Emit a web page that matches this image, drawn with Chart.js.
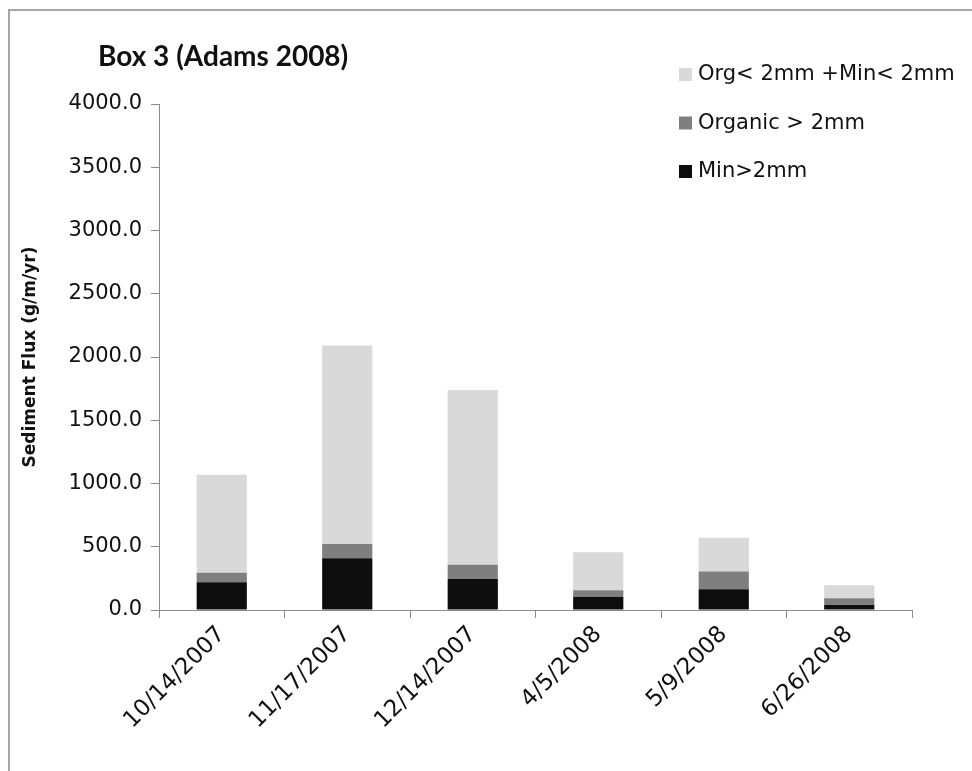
<!DOCTYPE html>
<html lang="en">
<head>
<meta charset="UTF-8">
<title>Box 3 (Adams 2008)</title>
<script src="https://cdn.jsdelivr.net/npm/chart.js"></script>
<style>
  html, body { margin: 0; padding: 0; background: #fff; overflow: hidden; }
  #frame { position: absolute; left: 8px; top: 9px; width: 1000px; height: 800px;
           border-left: 2px solid #a6a6a6; border-top: 2px solid #a6a6a6; }
  #chart { position: absolute; left: 0; top: 0; }
</style>
</head>
<body>
<div id="frame"></div>
<canvas id="chart" width="972" height="771"></canvas>
<script>
// data
const dates = ["10/14/2007", "11/17/2007", "12/14/2007", "4/5/2008", "5/9/2008", "6/26/2008"];
const minCoarse = [220, 410, 245, 105, 165, 40];     // Min>2mm
const orgCoarse = [75, 112, 112, 52, 140, 52];       // Organic > 2mm
const fine = [775, 1568, 1383, 300, 267, 103];       // Org< 2mm +Min< 2mm
const yTicks = [0, 500, 1000, 1500, 2000, 2500, 3000, 3500, 4000];

const titleText = "Box 3 (Adams 2008)";

// title + legend drawn by hand so they can sit where the original has them
const overlay = {
  id: "overlay",
  afterDraw(chart) {
    const ctx = chart.ctx;
    ctx.save();
    ctx.fillStyle = "#111";
    ctx.font = "bold 28px Lato";
    ctx.textBaseline = "alphabetic";
    ctx.textAlign = "left";
    ctx.fillText(titleText, 98, 66);

    ctx.font = "21px 'DejaVu Sans'";
    ctx.textBaseline = "middle";
    const sets = chart.data.datasets.slice().reverse();
    sets.forEach((ds, i) => {
      const y = 75 + i * 48.5;
      ctx.fillStyle = ds.backgroundColor;
      ctx.fillRect(679, y - 7, 13, 13);
      ctx.fillStyle = "#111";
      ctx.fillText(ds.label, 698, y);
    });
    ctx.restore();
  }
};

Chart.defaults.color = "#111";
Chart.defaults.font.family = "'DejaVu Sans'";

new Chart(document.getElementById("chart"), {
  type: "bar",
  data: {
    labels: dates,
    datasets: [
      { label: "Min>2mm", data: minCoarse, backgroundColor: "#0d0d0d" },
      { label: "Organic > 2mm", data: orgCoarse, backgroundColor: "#7f7f7f" },
      { label: "Org< 2mm +Min< 2mm", data: fine, backgroundColor: "#d9d9d9" }
    ]
  },
  options: {
    responsive: false,
    animation: false,
    layout: { padding: { left: 0, top: 104, right: 60, bottom: 0 } },
    datasets: { bar: { categoryPercentage: 1, barPercentage: 0.4 } },
    plugins: {
      legend: { display: false },
      title: { display: false },
      tooltip: { enabled: false }
    },
    scales: {
      x: {
        stacked: true,
        grid: { display: true, drawOnChartArea: false, offset: true, tickLength: 8, color: "#8c8c8c" },
        border: { display: true, color: "#8c8c8c", width: 1 },
        ticks: { minRotation: 45, maxRotation: 45, padding: 3, font: { size: 23 }, color: "#111" },
        afterFit(scale) { scale.height = 161; }
      },
      y: {
        stacked: true,
        min: 0,
        max: 4000,
        afterBuildTicks(scale) { scale.ticks = yTicks.map(v => ({ value: v })); },
        grid: { display: true, drawOnChartArea: false, tickLength: 8, color: "#8c8c8c" },
        border: { display: true, color: "#8c8c8c", width: 1 },
        ticks: { padding: 9, font: { size: 21 }, color: "#111", callback: v => v.toFixed(1) },
        title: {
          display: true,
          text: "Sediment Flux (g/m/yr)",
          font: { size: 17, weight: "bold" },
          color: "#111",
          padding: { top: 20, bottom: 0 }
        },
        afterFit(scale) { scale.width = 159; }
      }
    }
  },
  plugins: [overlay]
});
</script>
</body>
</html>
